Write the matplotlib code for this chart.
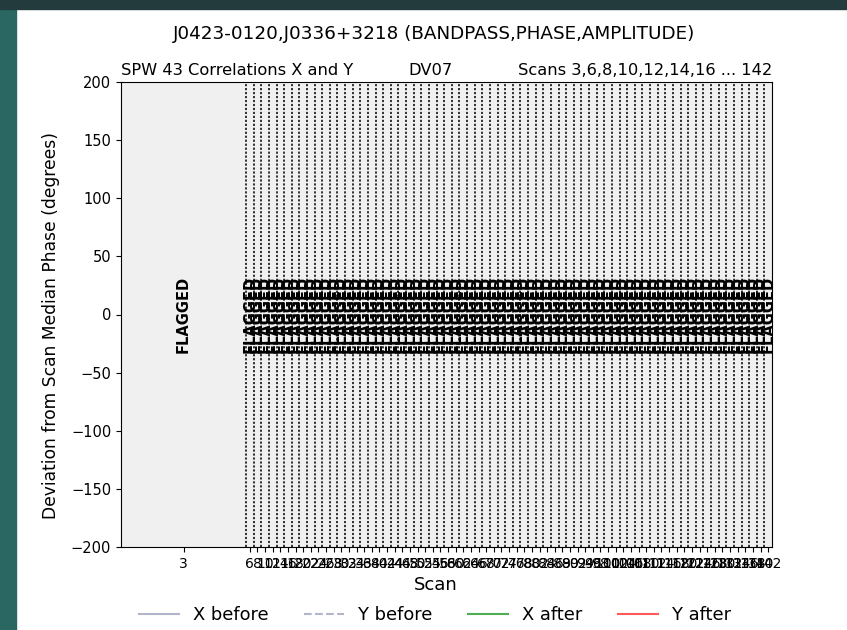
import matplotlib
matplotlib.use("Agg")
import matplotlib.pyplot as plt
from matplotlib.patches import Rectangle
import numpy as np

# scans in the observation and their durations (minutes)
scans = [3, 6, 8, 10, 12, 14, 16, 18, 20, 22, 24, 26, 28, 30, 32, 34, 36,
         38, 40, 42, 44, 46, 48, 50, 52, 54, 56, 58, 60, 62, 64, 66, 68, 70,
         72, 74, 76, 78, 80, 82, 84, 86, 88, 90, 92, 94, 96, 98, 100, 102,
         104, 106, 108, 110, 112, 114, 116, 118, 120, 122, 124, 126, 128,
         130, 132, 134, 136, 138, 140, 142]
scan_duration = [16.4,
                 1.0, 1.0, 1.0, 1.0, 1.0, 1.0, 1.0, 1.0, 1.0, 1.0, 1.0, 1.0,
                 1.0, 1.0, 1.0, 1.0, 1.0, 1.0, 1.0, 1.0, 1.0, 1.0, 1.0, 1.0,
                 1.0, 1.0, 1.0, 1.0, 1.0, 1.0, 1.0, 1.0, 1.0, 1.0, 1.0, 1.0,
                 1.0, 1.0, 1.0, 1.0, 1.0, 1.0, 1.0, 1.0, 1.0, 1.0, 1.0, 1.0,
                 1.0, 1.0, 1.0, 1.0, 1.0, 1.0, 1.0, 1.0, 1.0, 1.0, 1.0, 1.0,
                 1.0, 1.0, 1.0, 1.0, 1.0, 1.0, 1.0, 1.0, 1.0]
# every scan is flagged for this antenna
flagged = [True] * len(scans)

title = "J0423-0120,J0336+3218 (BANDPASS,PHASE,AMPLITUDE)"
spw_text = "SPW 43 Correlations X and Y"
antenna = "DV07"
scan_text = "Scans 3,6,8,10,12,14,16 ... 142"

series_labels = ["X before", "Y before", "X after", "Y after"]
series_colors = ["#b3b5cc", "#b3b5cc", "#4fae4f", "#ff5a5a"]
series_styles = ["-", "--", "-", "-"]

scan_end = np.cumsum(scan_duration)
scan_start = scan_end - np.array(scan_duration)
scan_mid = (scan_start + scan_end) / 2

fig = plt.figure(figsize=(8.47, 6.3), dpi=100)

# slide background strips around the figure
fig.patches.append(Rectangle((0, 0), 16 / 847, 1, transform=fig.transFigure,
                             color="#2a6662", zorder=-10))
fig.patches.append(Rectangle((0, 1 - 9 / 630), 1, 9 / 630,
                             transform=fig.transFigure,
                             color="#243b3d", zorder=-10))

ax = fig.add_axes([121 / 847, 83 / 630, 651 / 847, 465 / 630])

for s0, s1, m, flg in zip(scan_start, scan_end, scan_mid, flagged):
    if flg:
        ax.axvspan(s0, s1, color="#f0f0f0", lw=0, zorder=0)
        ax.text(m, 0, "FLAGGED", rotation=90, ha="center", va="center",
                fontsize=10.5, fontweight="bold", zorder=3)

# scan boundaries
for s0 in scan_start[1:]:
    ax.axvline(s0, color="#222222", ls=(0, (1.2, 1.0)), lw=1.3, zorder=2)

for lab, col, ls in zip(series_labels, series_colors, series_styles):
    ax.plot([], [], color=col, ls=ls, lw=1.5, label=lab)

ax.set_xlim(scan_start[0], scan_end[-1])
ax.set_ylim(-200, 200)
ax.set_yticks([-200, -150, -100, -50, 0, 50, 100, 150, 200])
ax.set_xticks(scan_mid)
ax.set_xticklabels([str(s) for s in scans], fontsize=10)
ax.tick_params(axis="y", labelsize=10.5)
ax.set_xlabel("Scan", fontsize=13)
ax.set_ylabel("Deviation from Scan Median Phase (degrees)", fontsize=12.3)
ax.xaxis.set_label_coords((436 - 121) / 651, -0.062)
ax.yaxis.set_label_coords((60 - 121) / 651, 0.477)

ax.text(0.0, 1.008, spw_text, transform=ax.transAxes, ha="left",
        va="bottom", fontsize=11.7)
ax.text(0.476, 1.008, antenna, transform=ax.transAxes, ha="center",
        va="bottom", fontsize=11.7)
ax.text(1.0, 1.008, scan_text, transform=ax.transAxes, ha="right",
        va="bottom", fontsize=11.7)

fig.text(434 / 847, 1 - 34 / 630, title, ha="center", va="center",
         fontsize=13.2)

fig.legend(loc="center", bbox_to_anchor=(435 / 847, 1 - 615 / 630),
           ncol=4, frameon=False, fontsize=12.9, handlelength=2.2,
           columnspacing=2.0)

fig.savefig("out.png", dpi=100)
